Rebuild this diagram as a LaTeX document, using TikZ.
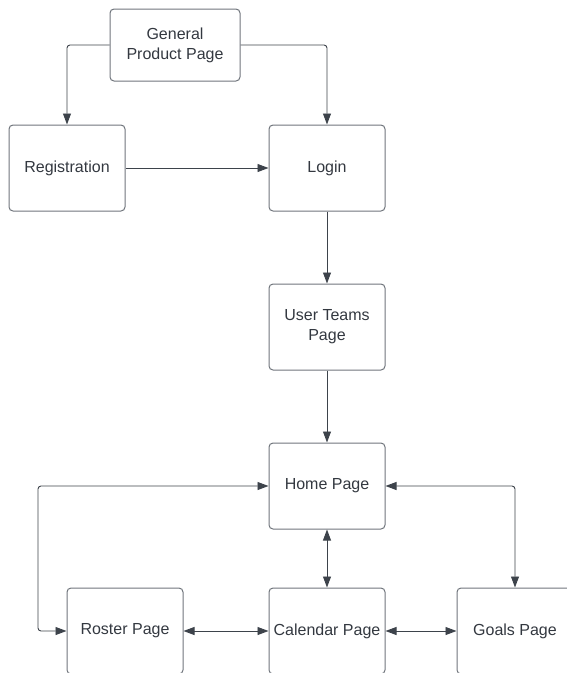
\documentclass[tikz,border=0pt]{standalone}
\usepackage{fontspec}
\setmainfont{Liberation Sans}
\usetikzlibrary{arrows.meta}
\definecolor{boxc}{HTML}{70757C}
\definecolor{linec}{HTML}{3D434B}
\definecolor{txt}{HTML}{333840}
\begin{document}
\begin{tikzpicture}[x=1pt,y=-1pt,
  page/.style={draw=boxc, line width=1pt, rounded corners=4pt, minimum width=116pt, minimum height=86pt, align=center, font=\fontsize{16}{20}\selectfont, text=txt, inner sep=0pt},
  conn/.style={draw=linec, line width=0.9pt, rounded corners=3pt, -{Triangle[length=11pt,width=8pt]}},
  both/.style={conn, {Triangle[length=11pt,width=8pt]}-{Triangle[length=11pt,width=8pt]}}]
\useasboundingbox (0,0) rectangle (567,673);
\clip (0,0) rectangle (567,673);
\node[page, minimum width=130pt, minimum height=72pt] (gpp) at (175,45) {General\\Product Page};
\node[page] (reg) at (67,168) {Registration};
\node[page] (login) at (327,168) {Login};
\node[page] (ut) at (327,327) {User Teams\\Page};
\node[page] (home) at (327,486) {Home Page};
\node[page] (roster) at (125,631) {Roster Page};
\node[page] (cal) at (327,631) {Calendar Page};
\node[page] (goals) at (515,631) {Goals Page};
\coordinate (lt) at (38,486);
\coordinate (lb) at (38,631);
\draw[conn] (gpp.west) -| (reg.north);
\draw[conn] (gpp.east) -| (login.north);
\draw[conn] (reg) -- (login);
\draw[conn] (login) -- (ut);
\draw[conn] (ut) -- (home);
\draw[both] (home.west) -- (lt) -- (lb) -- (roster.west);
\draw[both] (home.east) -| (goals.north);
\draw[both] (home) -- (cal);
\draw[both] (roster) -- (cal);
\draw[both] (cal) -- (goals);
\end{tikzpicture}
\end{document}
